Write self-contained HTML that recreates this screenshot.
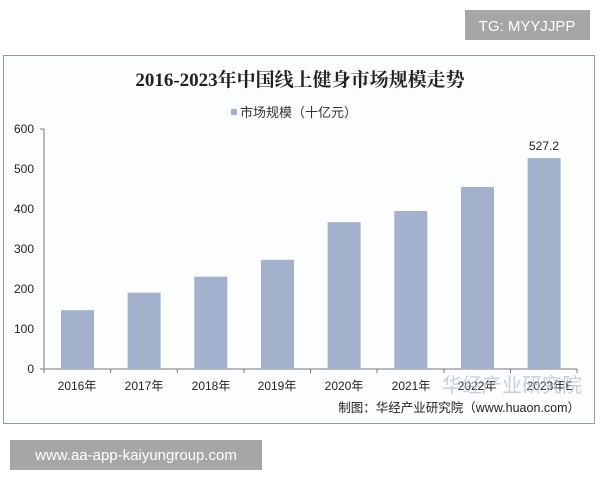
<!DOCTYPE html><html><head><meta charset="utf-8"><style>body{margin:0;width:600px;height:480px;background:#fff;overflow:hidden;font-family:"Liberation Sans","Noto Sans CJK SC",sans-serif}</style></head><body>
<svg width="600" height="480" xmlns="http://www.w3.org/2000/svg" font-family="Liberation Sans, Noto Sans CJK SC, sans-serif">
<rect x="465" y="10" width="125" height="30" fill="#a6a6a6"/>
<text x="527" y="31" font-size="15" fill="#fff" text-anchor="middle">TG: MYYJJPP</text>
<rect x="3.5" y="55.5" width="591" height="368" fill="#fbfdff" stroke="#999"/>
<text x="300" y="86" font-size="19" font-weight="bold" text-anchor="middle" font-family="Liberation Serif, Noto Serif CJK SC, serif" fill="#222">2016-2023年中国线上健身市场规模走势</text>
<rect x="231" y="109" width="6" height="6" fill="#a3b1cc"/>
<text x="240" y="117" font-size="13" fill="#333">市场规模（十亿元）</text>
<g font-size="12" fill="#222" text-anchor="end">
<text x="34" y="133">600</text><text x="34" y="173">500</text><text x="34" y="213">400</text><text x="34" y="253">300</text><text x="34" y="293">200</text><text x="34" y="333">100</text><text x="34" y="373">0</text></g>
<g stroke="#777" fill="none"><path d="M44 129V369H577"/>
<path d="M40 129H44M40 369H44"/>
<path d="M44 369v4M110.6 369v4M177.3 369v4M244 369v4M310.5 369v4M377 369v4M444 369v4M510.5 369v4M577 369v4"/></g>
<g fill="#a3b1cc">
<rect x="61" y="310.2" width="33" height="58.8"/>
<rect x="127.6" y="292.6" width="33" height="76.4"/>
<rect x="194.3" y="276.6" width="33" height="92.4"/>
<rect x="261" y="259.8" width="33" height="109.2"/>
<rect x="327.6" y="222.2" width="33" height="146.8"/>
<rect x="394.3" y="211" width="33" height="158"/>
<rect x="461" y="187" width="33" height="182"/>
<rect x="527.6" y="158.1" width="33" height="210.9"/>
</g>
<text x="544" y="150" font-size="12" text-anchor="middle" fill="#222">527.2</text>
<g font-size="12" fill="#222" text-anchor="middle">
<text x="77" y="390">2016年</text><text x="144" y="390">2017年</text><text x="211" y="390">2018年</text><text x="277" y="390">2019年</text><text x="344" y="390">2020年</text><text x="411" y="390">2021年</text><text x="477" y="390">2022年</text><text x="550" y="390">2023年E</text></g>
<text x="442" y="392" font-size="20" fill="#c0c4cc" opacity="0.8">华经产业研究院</text>
<text x="580" y="412" font-size="12.5" text-anchor="end" fill="#222">制图：华经产业研究院（www.huaon.com）</text>
<rect x="10" y="440" width="252" height="30" fill="#a6a6a6"/>
<text x="136" y="460" font-size="15" fill="#fff" text-anchor="middle">www.aa-app-kaiyungroup.com</text>
</svg></body></html>
